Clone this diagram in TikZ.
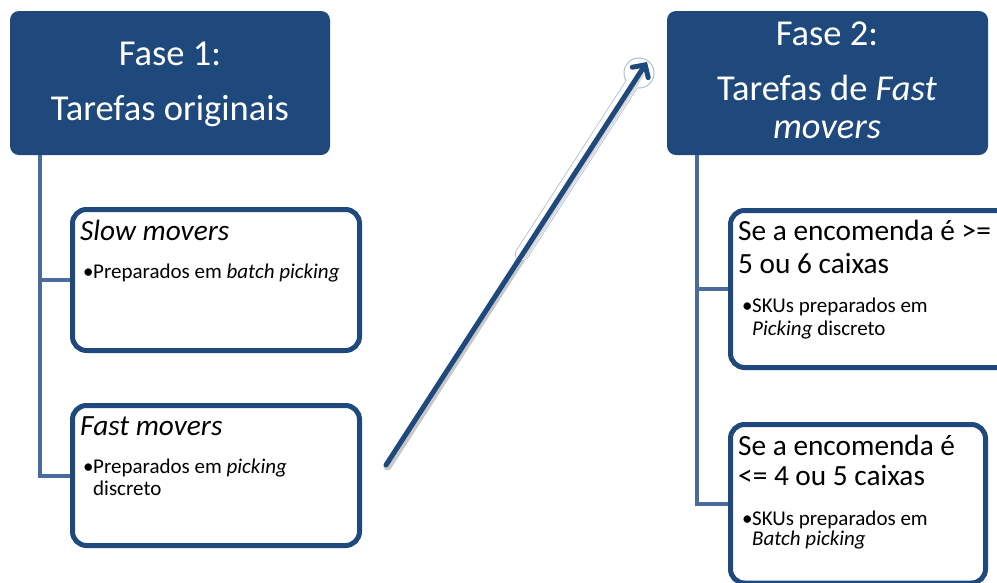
\documentclass[tikz,border=0pt]{standalone}
\usepackage{fontspec}
\setmainfont{Carlito}
\usetikzlibrary{arrows.meta}
\definecolor{navy}{RGB}{31,73,125}
\definecolor{linkblue}{RGB}{74,108,157}
\definecolor{shadowgray}{RGB}{200,200,200}
\definecolor{halo}{RGB}{165,185,210}

\begin{document}
\begin{tikzpicture}[x=1pt,y=-1pt,
  header/.style={fill=navy, draw=none, rounded corners=9pt, inner sep=0pt},
  itembox/.style={draw=navy, line width=5pt, fill=white, rounded corners=14pt, inner sep=0pt},
  conn/.style={draw=linkblue, line width=4pt},
  htext/.style={anchor=base, inner sep=0pt, text=white, font=\fontsize{36.5}{40}\selectfont},
  ttext/.style={anchor=base west, inner sep=0pt, font=\fontsize{29.3}{32}\selectfont},
  btext/.style={anchor=base west, inner sep=0pt, font=\fontsize{21}{24}\selectfont},
  bulletmark/.style={anchor=base west, inner sep=0pt, font=\fontsize{21}{24}\selectfont},
]
\useasboundingbox (0,0) rectangle (997,582);
\clip (0,0) rectangle (997,582);

% phase headers
\node[header, minimum width=320pt, minimum height=144pt] (h1) at (170,83) {};
\node[header, minimum width=321pt, minimum height=144pt] (h2) at (827.5,83) {};

% detail boxes
\node[itembox, minimum width=287pt, minimum height=141pt] (slow) at (216,280) {};
\node[itembox, minimum width=287pt, minimum height=140pt] (fast) at (216,475.5) {};
\node[itembox, minimum width=290pt, minimum height=157pt] (big) at (875.5,289) {};
\node[itembox, minimum width=255pt, minimum height=158.5pt] (small) at (858,503.75) {};

% tree connectors
\coordinate (t1) at ([xshift=30pt]h1.south west);
\coordinate (t2) at ([xshift=30pt]h2.south west);
\draw[conn] (t1) |- (slow.west);
\draw[conn] (t1) |- (fast.west);
\draw[conn] (t2) |- (big.west);
\draw[conn] (t2) |- (small.west);

% header texts
\node[htext] (h1a) at (170,65) {Fase 1:};
\node[htext] (h1b) at (170,120) {Tarefas originais};
\node[htext] (h2a) at (827,45) {Fase 2:};
\node[htext] (h2b) at (827,100) {Tarefas de \textit{Fast}};
\node[htext] (h2c) at (827,138) {\textit{movers}};

% slow movers
\node[ttext] (s1) at (80,240) {\textit{Slow movers}};
\node[bulletmark] (sb) at (83,278) {•};
\node[btext] (s2) at (93,278) {Preparados em \textit{batch picking}};

% fast movers
\node[ttext] (f1) at (80,435) {\textit{Fast movers}};
\node[bulletmark] (fb) at (83,473) {•};
\node[btext] (f2) at (93,473) {Preparados em \textit{picking}};
\node[btext] (f3) at (93,495) {discreto};

% large orders
\node[ttext] (b1) at (738,240) {Se a encomenda é >=};
\node[ttext] (b2) at (738,273) {5 ou 6 caixas};
\node[bulletmark] (bb) at (742,312) {•};
\node[btext] (b3) at (752,312) {SKUs preparados em};
\node[btext] (b4) at (752,335) {\textit{Picking} discreto};

% small orders
\node[ttext] (m1) at (738,455) {Se a encomenda é};
\node[ttext] (m2) at (738,485) {<= 4 ou 5 caixas};
\node[bulletmark] (mb) at (742,525) {•};
\node[btext] (m3) at (752,525) {SKUs preparados em};
\node[btext] (m4) at (752,545) {\textit{Batch picking}};

% transition arrow with shadow and halo
\coordinate (a0) at (386,465);
\coordinate (am) at (522,254);
\coordinate (ah) at (639,73);
\coordinate (a1) at (647,62);
\draw[shadowgray, line width=8pt, line cap=round] ([shift={(1.5,1.5)}]a0) -- ([shift={(1.5,1.5)}]am);
\draw[halo, line width=14pt, line cap=round] (am) -- (ah);
\fill[halo] (ah) circle (15.5pt);
\draw[white, line width=12.5pt, line cap=round] (am) -- (ah);
\fill[white] (ah) circle (14.5pt);
\draw[shadowgray!70, line width=7pt, line cap=round] ([shift={(1.5,1.5)}]am) -- ([shift={(1.5,1.5)}]ah);
\draw[navy, line width=5pt, line cap=round, -{Straight Barb[length=9pt, width=19pt, line cap=round]}] (a0) -- (a1);
\end{tikzpicture}
\end{document}
